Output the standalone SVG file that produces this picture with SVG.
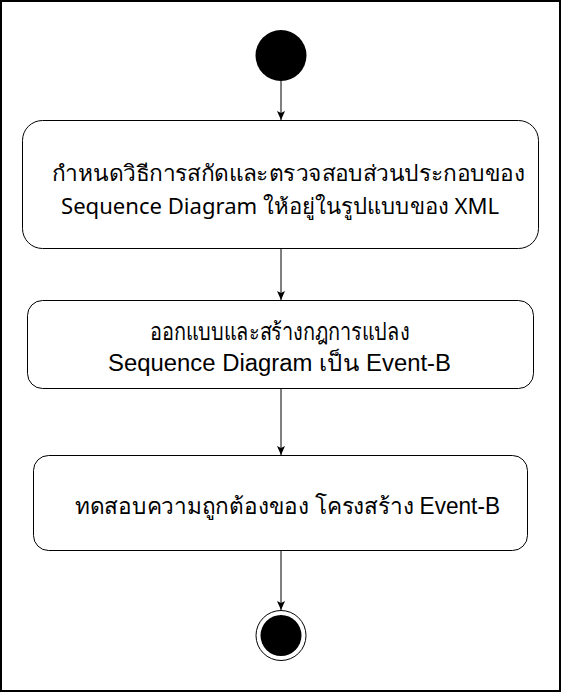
<svg xmlns="http://www.w3.org/2000/svg" width="561" height="692" viewBox="0 0 561 692">
<defs>
<marker id="arr" markerWidth="10" markerHeight="10" refX="0" refY="0" orient="auto" markerUnits="userSpaceOnUse" viewBox="-10 -5 10 10">
<path d="M0,0 L-9,-4 L-7,0 L-9,4 Z" fill="#000"/>
</marker>
<style>
.frame{fill:#fff;stroke:#000;stroke-width:2}
.box{fill:#fff;stroke:#000;stroke-width:1}
.t{font-family:"Noto Sans","Liberation Sans",sans-serif;font-size:22px;fill:#000;text-anchor:middle}
.h{font-family:"Liberation Sans","Noto Sans",sans-serif;font-size:23px;fill:#000;text-anchor:middle}
.edge{stroke:#000;stroke-width:1;fill:none}
</style>
</defs>
<rect class="frame" x="1" y="1" width="559" height="690"/>
<g id="start"><circle cx="281" cy="55.5" r="25.5" fill="#000"/></g>
<g id="a1">
<rect class="box" x="22.5" y="120.5" width="516" height="128" rx="20"/>
<text class="t" x="288.5" y="181" textLength="473" lengthAdjust="spacingAndGlyphs">กำหนดวิธีการสกัดและตรวจสอบส่วนประกอบของ</text>
<text class="t" x="280" y="214" textLength="438" lengthAdjust="spacingAndGlyphs">Sequence Diagram ให้อยู่ในรูปแบบของ XML</text>
</g>
<g id="a2">
<rect class="box" x="27.5" y="300.5" width="506" height="88" rx="15"/>
<text class="h" x="0" y="0" style="font-size:24px" transform="translate(280,340) scale(0.83,1)">ออกแบบและสร้างกฎการแปลง</text>
<text class="h" x="279.5" y="371" textLength="343" lengthAdjust="spacingAndGlyphs">Sequence Diagram เป็น Event-B</text>
</g>
<g id="a3">
<rect class="box" x="33.5" y="455.5" width="494" height="95" rx="15"/>
<text class="h" x="287.5" y="514" textLength="425" lengthAdjust="spacingAndGlyphs">ทดสอบความถูกต้องของ โครงสร้าง Event-B</text>
</g>
<g id="end">
<circle cx="281" cy="635.5" r="25" fill="#fff" stroke="#000" stroke-width="1"/>
<circle cx="281" cy="635.5" r="20.5" fill="#000"/>
</g>
<g id="edges">
<path class="edge" d="M281,81 L281,120" marker-end="url(#arr)"/>
<path class="edge" d="M281,249 L281,300" marker-end="url(#arr)"/>
<path class="edge" d="M281,389 L281,455" marker-end="url(#arr)"/>
<path class="edge" d="M281,551 L281,610" marker-end="url(#arr)"/>
</g>
</svg>
